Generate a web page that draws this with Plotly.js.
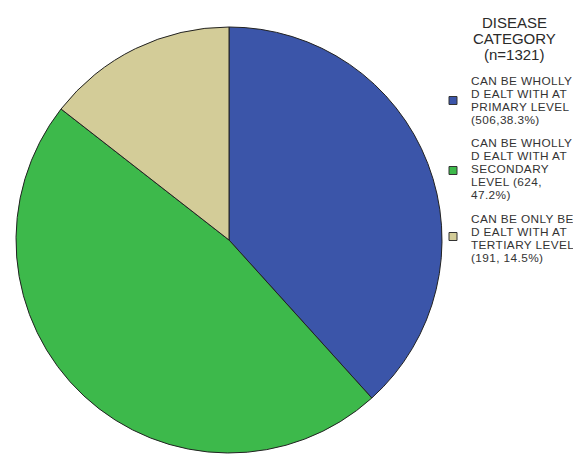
<!DOCTYPE html>
<html><head><meta charset="utf-8">
<script src="https://cdn.plot.ly/plotly-3.0.1.min.js"></script>
<style>body{margin:0;background:#fff}#c{width:573px;height:454px}</style>
</head><body><div id="c"></div>
<script>
const categories = [
  "CAN BE WHOLLY DEALT WITH AT PRIMARY LEVEL",
  "CAN BE WHOLLY DEALT WITH AT SECONDARY LEVEL",
  "CAN BE ONLY BE DEALT WITH AT TERTIARY LEVEL"
];
const counts = [506, 624, 191];
const colors = ["#3B55A9", "#3DB94B", "#D3CC98"];
const titleLines = ["DISEASE", "CATEGORY", "(n=1321)"];
const legendLines = [
  ["CAN BE WHOLLY", "D EALT WITH AT", "PRIMARY LEVEL", "(506,38.3%)"],
  ["CAN BE WHOLLY", "D EALT WITH AT", "SECONDARY", "LEVEL (624,", "47.2%)"],
  ["CAN BE ONLY BE", "D EALT WITH AT", "TERTIARY LEVEL", "(191, 14.5%)"]
];

const W = 573, H = 454;
const FONT = 'Liberation Sans, Arial, sans-serif';
const px2y = p => 1 - p / H;
const px2x = p => p / W;

// layout constants (pixels)
const titleX = 514, titleFirstBase = 27.5, titlePitch = 16, titleSize = 15;
const itemX = 469, itemSize = 11.8, itemPitch = 12.9;
const itemFirstBase = [85.7, 147.3, 223.3];
const swatchX0 = 449, swatchSize = 8;
const swatchCenter = [100.5, 170.5, 236.5];

const annotations = [];
titleLines.forEach((t, i) => {
  const base = titleFirstBase + i * titlePitch;
  annotations.push({
    text: t, showarrow: false, xref: 'paper', yref: 'paper',
    x: px2x(titleX), xanchor: 'center',
    y: px2y(base - 0.36 * titleSize), yanchor: 'middle',
    font: {family: FONT, size: titleSize, color: '#2a2a2a'}
  });
});
legendLines.forEach((lines, k) => {
  lines.forEach((t, i) => {
    const base = itemFirstBase[k] + i * itemPitch;
    annotations.push({
      text: '<span style="letter-spacing:0.4px">' + t + '</span>',
      showarrow: false, xref: 'paper', yref: 'paper',
      x: px2x(itemX), xanchor: 'left',
      y: px2y(base - 0.36 * itemSize), yanchor: 'middle',
      font: {family: FONT, size: itemSize, color: '#333'}
    });
  });
});
const shapes = colors.map((c, k) => ({
  type: 'rect', xref: 'paper', yref: 'paper',
  x0: px2x(swatchX0), x1: px2x(swatchX0 + swatchSize),
  y0: px2y(swatchCenter[k] + swatchSize / 2), y1: px2y(swatchCenter[k] - swatchSize / 2),
  fillcolor: c, line: {color: '#333', width: 1}
}));

Plotly.newPlot('c', [{
  type: 'pie',
  labels: categories,
  values: counts,
  sort: false,
  direction: 'clockwise',
  rotation: 0,
  textinfo: 'none',
  hoverinfo: 'none',
  showlegend: false,
  marker: {colors: colors, line: {color: '#222', width: 1}},
  domain: {x: [15 / W, 443 / W], y: [1 / H, 427 / H]}
}], {
  width: W, height: H,
  margin: {l: 0, r: 0, t: 0, b: 0},
  paper_bgcolor: '#fff',
  font: {family: FONT, color: '#222'},
  showlegend: false,
  annotations: annotations,
  shapes: shapes
}, {staticPlot: true});
</script></body></html>
